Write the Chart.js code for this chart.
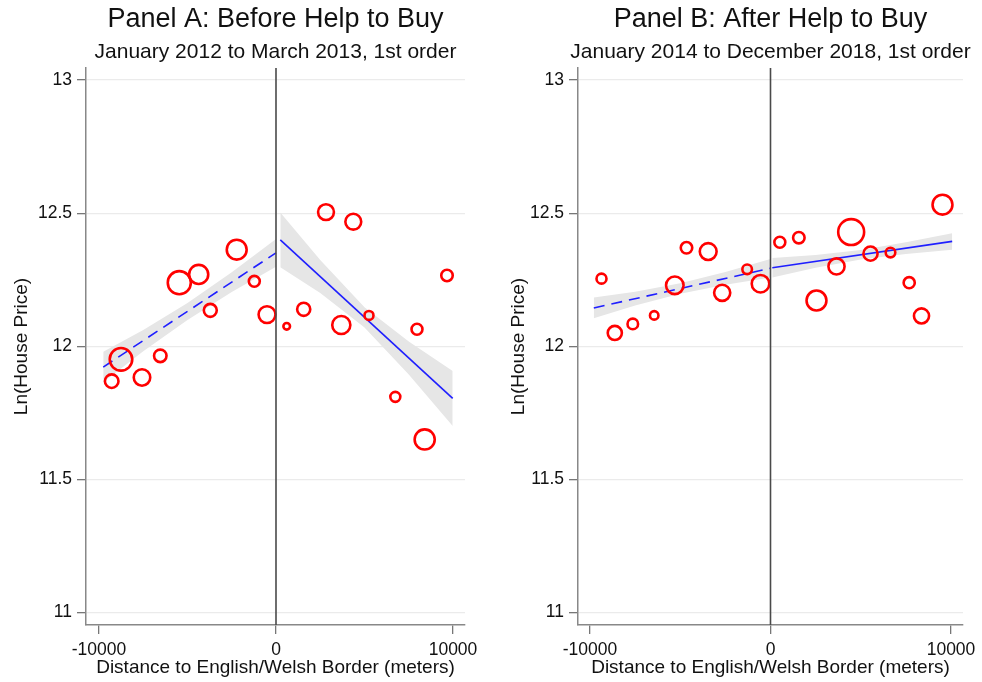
<!DOCTYPE html>
<html>
<head>
<meta charset="utf-8">
<script src="https://cdn.jsdelivr.net/npm/chart.js@4.4.1/dist/chart.umd.min.js"></script>
<style>
  html, body { margin: 0; padding: 0; background: #fff; overflow: hidden; width: 982px; height: 682px; }
  canvas { position: absolute; top: 0; }
  #panelA { left: 0; }
  #panelB { left: 491px; }
</style>
</head>
<body>
<canvas id="panelA" width="551" height="682"></canvas>
<canvas id="panelB" width="559" height="682"></canvas>
<script>
// axis ticks and the border cutoff
const yTicks = [11, 11.5, 12, 12.5, 13];
const xTicks = [-10000, 0, 10000];
const cutoff = 0;

// Panel A: binned means (distance in meters, ln price, bin weight)
const aLeftDist  = [-9282, -8757, -7570, -6537, -5463, -4367, -3712, -2220, -1225, -508];
const aLeftPrice = [11.869, 11.951, 11.883, 11.964, 12.239, 12.270, 12.135, 12.363, 12.244, 12.119];
const aLeftObs   = [46, 127, 68, 39, 133, 91, 42, 99, 30, 71];
const aRightDist  = [605, 1565, 2825, 3689, 4367, 5254, 6741, 7966, 8400, 9661];
const aRightPrice = [12.075, 12.139, 12.504, 12.080, 12.468, 12.116, 11.810, 12.064, 11.650, 12.266];
const aRightObs   = [11, 43, 63, 82, 63, 20, 25, 30, 101, 33];

// Panel A: linear fits and 95% bands
const aFitLeftDist   = [-9760, 0];
const aFitLeftPrice  = [11.922, 12.351];
const aFitRightDist  = [243, 9983];
const aFitRightPrice = [12.400, 11.804];
const aBandLeftDist  = [-9760, -7500, -5000, -2500, 0];
const aBandLeftLow   = [11.865, 11.981, 12.099, 12.204, 12.299];
const aBandLeftHigh  = [11.979, 12.061, 12.163, 12.278, 12.403];
const aBandRightDist = [243, 2500, 5000, 7500, 9983];
const aBandRightLow  = [12.297, 12.200, 12.071, 11.894, 11.701];
const aBandRightHigh = [12.503, 12.324, 12.147, 12.018, 11.907];

// Panel B: binned means
const bLeftDist  = [-9363, -8626, -7629, -6443, -5302, -4654, -3452, -2677, -1293, -554];
const bLeftPrice = [12.254, 12.050, 12.084, 12.116, 12.229, 12.370, 12.356, 12.201, 12.289, 12.235];
const bLeftObs   = [25, 50, 28, 18, 77, 33, 71, 65, 23, 77];
const bRightDist  = [517, 1570, 2548, 3657, 4469, 5540, 6648, 7684, 8366, 9529];
const bRightPrice = [12.391, 12.408, 12.172, 12.300, 12.429, 12.348, 12.352, 12.239, 12.114, 12.532];
const bRightObs   = [30, 33, 99, 65, 168, 50, 23, 31, 57, 99];

// Panel B: linear fits and 95% bands
const bFitLeftDist   = [-9790, 0];
const bFitLeftPrice  = [12.144, 12.293];
const bFitRightDist  = [100, 10066];
const bFitRightPrice = [12.295, 12.394];
const bBandLeftDist  = [-9790, -7500, -5000, -2500, 0];
const bBandLeftLow   = [12.105, 12.153, 12.197, 12.231, 12.258];
const bBandLeftHigh  = [12.183, 12.205, 12.237, 12.279, 12.328];
const bBandRightDist = [100, 2500, 5000, 7500, 10066];
const bBandRightLow  = [12.258, 12.295, 12.326, 12.347, 12.363];
const bBandRightHigh = [12.332, 12.343, 12.362, 12.391, 12.425];

const FONT = '"Liberation Sans", Arial, sans-serif';
const TEXT = '#111';

const pts = (xs, ys) => xs.map((x, i) => ({ x: x, y: ys[i] }));
const bubbles = (xs, ys, w) => xs.map((x, i) => ({ x: x, y: ys[i], r: Math.sqrt(w[i]) }));

// draws the vertical line at the border
const cutoffLine = {
  id: 'cutoffLine',
  afterDatasetsDraw(chart) {
    const { ctx, chartArea, scales } = chart;
    const px = scales.x.getPixelForValue(cutoff);
    ctx.save();
    ctx.strokeStyle = '#4a4a4a';
    ctx.lineWidth = 1.6;
    ctx.beginPath();
    ctx.moveTo(px, chartArea.top);
    ctx.lineTo(px, chartArea.bottom);
    ctx.stroke();
    ctx.restore();
  }
};

function makePanel(id, p) {
  const band = (xs, lo, hi) => [
    { type: 'line', data: pts(xs, lo), borderWidth: 0, pointRadius: 0, fill: false },
    { type: 'line', data: pts(xs, hi), borderWidth: 0, pointRadius: 0, fill: '-1', backgroundColor: '#e6e6e6' }
  ];
  const datasets = [
    {
      type: 'bubble',
      data: bubbles(p.leftDist.concat(p.rightDist), p.leftPrice.concat(p.rightPrice), p.leftObs.concat(p.rightObs)),
      backgroundColor: 'rgba(0,0,0,0)',
      borderColor: '#ff0000',
      borderWidth: 2.6,
      hoverRadius: 0
    },
    { type: 'line', data: pts(p.fitLeftDist, p.fitLeftPrice), borderColor: '#1f1fff', borderWidth: 1.6, borderDash: [11, 7], pointRadius: 0, fill: false },
    { type: 'line', data: pts(p.fitRightDist, p.fitRightPrice), borderColor: '#1f1fff', borderWidth: 1.6, pointRadius: 0, fill: false },
    ...band(p.bandLeftDist, p.bandLeftLow, p.bandLeftHigh),
    ...band(p.bandRightDist, p.bandRightLow, p.bandRightHigh)
  ];

  return new Chart(document.getElementById(id), {
    type: 'scatter',
    data: { datasets: datasets },
    options: {
      responsive: false,
      animation: false,
      events: [],
      layout: { padding: 0 },
      plugins: {
        legend: { display: false },
        tooltip: { enabled: false },
        title: {
          display: true, text: p.title, color: TEXT,
          font: { family: FONT, size: 27, weight: 'normal' },
          padding: { top: 3.5, bottom: 2 }
        },
        subtitle: {
          display: true, text: p.subtitle, color: TEXT,
          font: { family: FONT, size: 21, weight: 'normal' },
          padding: { top: 2, bottom: 3 }
        }
      },
      scales: {
        x: {
          type: 'linear', min: p.xMin, max: p.xMax,
          afterBuildTicks: s => { s.ticks = xTicks.map(v => ({ value: v })); },
          afterFit: s => { s.height = 57; },
          grid: { drawOnChartArea: false, drawTicks: true, tickLength: 9, tickColor: '#777', lineWidth: 1.3 },
          border: { display: true, color: '#888', width: 1.5 },
          ticks: { color: TEXT, font: { family: FONT, size: 17.5 }, padding: 5.5, maxRotation: 0, autoSkip: false, callback: v => String(v) },
          title: { display: true, text: 'Distance to English/Welsh Border (meters)', color: TEXT,
                   font: { family: FONT, size: 19 }, padding: { top: 0, bottom: 3 } }
        },
        y: {
          type: 'linear', min: 10.953, max: 13.045,
          afterBuildTicks: s => { s.ticks = yTicks.map(v => ({ value: v })); },
          afterFit: s => { s.width = p.axisW; },
          grid: { color: '#ebebeb', lineWidth: 1.3, tickColor: '#777', tickLength: 9 },
          border: { display: true, color: '#888', width: 1.5 },
          ticks: { color: TEXT, font: { family: FONT, size: 17.5 }, padding: 5, callback: v => String(v) },
          title: { display: true, text: 'Ln(House Price)', color: TEXT,
                   font: { family: FONT, size: 19 }, padding: { top: p.yTitlePad, bottom: 0 } }
        },
        // empty right-hand box so the titles centre over the plot region
        pad: {
          type: 'linear', position: 'right', display: true,
          grid: { display: false }, border: { display: false }, ticks: { display: false },
          afterFit: s => { s.width = p.axisW; }
        }
      }
    },
    plugins: [cutoffLine]
  });
}

makePanel('panelA', {
  title: 'Panel A: Before Help to Buy',
  subtitle: 'January 2012 to March 2013, 1st order',
  xMin: -10734, xMax: 10678, axisW: 86, yTitlePad: 10,
  leftDist: aLeftDist, leftPrice: aLeftPrice, leftObs: aLeftObs,
  rightDist: aRightDist, rightPrice: aRightPrice, rightObs: aRightObs,
  fitLeftDist: aFitLeftDist, fitLeftPrice: aFitLeftPrice,
  fitRightDist: aFitRightDist, fitRightPrice: aFitRightPrice,
  bandLeftDist: aBandLeftDist, bandLeftLow: aBandLeftLow, bandLeftHigh: aBandLeftHigh,
  bandRightDist: aBandRightDist, bandRightLow: aBandRightLow, bandRightHigh: aBandRightHigh
});

makePanel('panelB', {
  title: 'Panel B: After Help to Buy',
  subtitle: 'January 2014 to December 2018, 1st order',
  xMin: -10665, xMax: 10665, axisW: 87, yTitlePad: 16,
  leftDist: bLeftDist, leftPrice: bLeftPrice, leftObs: bLeftObs,
  rightDist: bRightDist, rightPrice: bRightPrice, rightObs: bRightObs,
  fitLeftDist: bFitLeftDist, fitLeftPrice: bFitLeftPrice,
  fitRightDist: bFitRightDist, fitRightPrice: bFitRightPrice,
  bandLeftDist: bBandLeftDist, bandLeftLow: bBandLeftLow, bandLeftHigh: bBandLeftHigh,
  bandRightDist: bBandRightDist, bandRightLow: bBandRightLow, bandRightHigh: bBandRightHigh
});
</script>
</body>
</html>
